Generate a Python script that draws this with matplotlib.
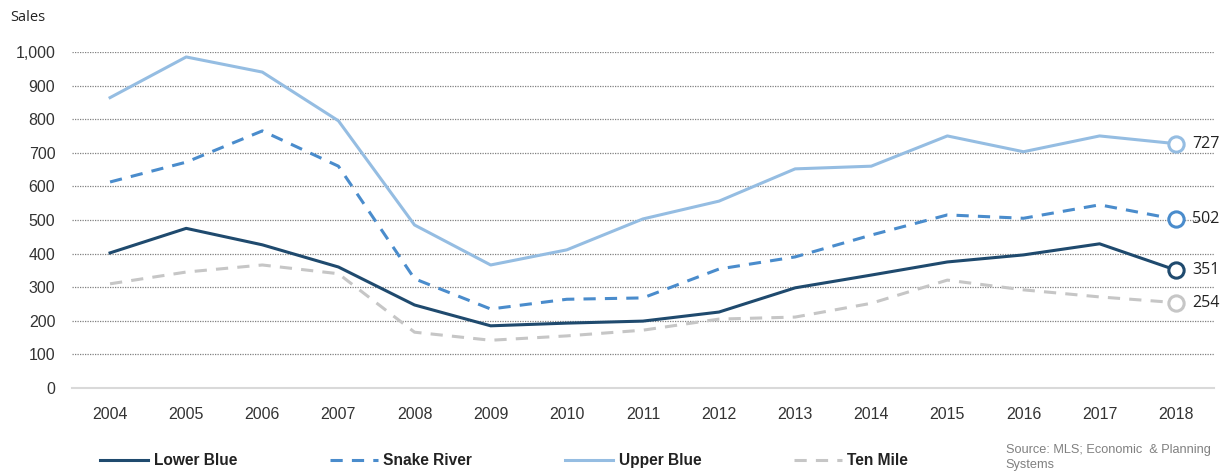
import numpy as np
import matplotlib
matplotlib.use("Agg")
import matplotlib.pyplot as plt

plt.rcParams['font.family'] = ['Liberation Sans', 'DejaVu Sans']

years = list(range(2004, 2019))
lower_blue = [402, 475, 426, 360, 247, 185, 193, 199, 226, 298, 336, 375, 396, 429, 351]
snake_river = [613, 672, 765, 660, 325, 235, 264, 268, 354, 390, 455, 515, 505, 545, 502]
upper_blue = [864, 985, 940, 795, 485, 366, 411, 503, 556, 652, 660, 750, 703, 750, 727]
ten_mile = [310, 345, 366, 340, 166, 142, 155, 172, 205, 211, 252, 321, 292, 271, 254]

series = [
    ("Lower Blue", lower_blue, "#1f4a6e", "-"),
    ("Snake River", snake_river, "#4a8ccc", (0, (4, 3))),
    ("Upper Blue", upper_blue, "#95bde2", "-"),
    ("Ten Mile", ten_mile, "#c6c6c6", (0, (4, 3))),
]

fig = plt.figure(figsize=(12.31, 4.72), dpi=100)
ax = fig.add_axes([0.0585, 0.178, 0.9275, 0.712])

x = np.arange(len(years))
for name, vals, col, ls in series:
    ax.plot(x, vals, color=col, lw=2.2, ls=ls, label=name, clip_on=False)
    ax.plot(x[-1], vals[-1], 'o', ms=11, mfc='white', mec=col, mew=2.2, clip_on=False, zorder=5)
    ax.text(x[-1] + 0.22, vals[-1], str(vals[-1]), va='center', ha='left', fontsize=11.5,
            color='#222222', family=['Open Sans', 'DejaVu Sans'])

ax.set_xlim(-0.5, len(years) - 0.5)
ax.set_ylim(0, 1000)
ax.set_yticks(range(0, 1001, 100))
ax.set_yticklabels([f"{v:,}" for v in range(0, 1001, 100)], fontsize=11.5, color='#333333')
ax.set_xticks(x)
ax.set_xticklabels([str(y) for y in years], fontsize=11.5, color='#333333')
ax.tick_params(axis='both', length=0)
ax.tick_params(axis='x', pad=14)
ax.tick_params(axis='y', pad=12)

for v in range(100, 1001, 100):
    ax.axhline(v, color='#808080', lw=0.9, ls=(0, (1, 1)), zorder=0)
for s in ['top', 'right', 'left']:
    ax.spines[s].set_visible(False)
ax.spines['bottom'].set_color('#d9d9d9')
ax.spines['bottom'].set_linewidth(1.5)

fig.text(0.008, 0.963, "Sales", fontsize=10.5, color='#222222', va='center',
         family=['Open Sans', 'DejaVu Sans'])

leg = fig.legend(loc='center left', bbox_to_anchor=(0.07, 0.024), ncol=4, frameon=False,
                 handlelength=3.1, columnspacing=5.95, handletextpad=0.35,
                 prop={'weight': 'bold', 'size': 11.2})
for t in leg.get_texts():
    t.set_color('#222222')

fig.text(0.817, 0.030, "Source: MLS; Economic  & Planning\nSystems", fontsize=9.2,
         color='#808080', va='center', ha='left', linespacing=1.3)

fig.savefig("out.png", dpi=100)
